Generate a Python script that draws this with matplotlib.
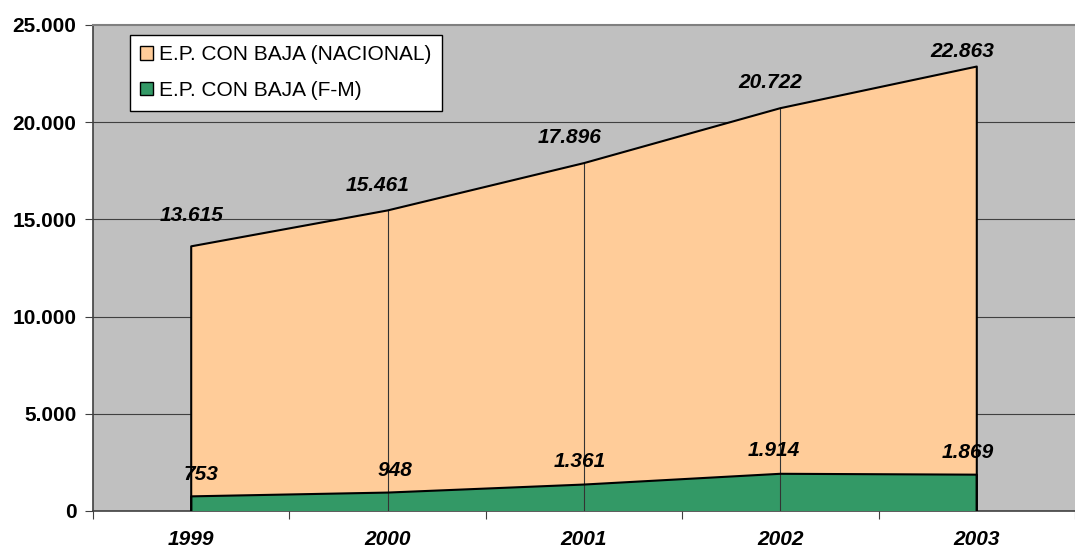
import matplotlib
matplotlib.use("Agg")
import matplotlib.pyplot as plt
from matplotlib.patches import Patch

plt.rcParams['font.family'] = ['Liberation Sans', 'DejaVu Sans']

years = ['1999', '2000', '2001', '2002', '2003']
nacional = [13615, 15461, 17896, 20722, 22863]
fm = [753, 948, 1361, 1914, 1869]
nacional_labels = ['13.615', '15.461', '17.896', '20.722', '22.863']
fm_labels = ['753', '948', '1.361', '1.914', '1.869']
y_ticks = [0, 5000, 10000, 15000, 20000, 25000]
y_tick_labels = ['0', '5.000', '10.000', '15.000', '20.000', '25.000']

# label offsets in pixels (dx, dy)
nac_off = [(0, 31), (-10, 25), (-14, 26), (-10, 26), (-15, 15)]
fm_off = [(10, 22), (7, 22), (-4, 23), (-7, 23), (-9, 22)]

orange = '#FFCC99'
green = '#339966'

fig = plt.figure(figsize=(10.75, 5.48), dpi=100)
ax = fig.add_axes([93 / 1075, 37 / 548, 1 - 93 / 1075, 486 / 548])
ax.set_facecolor('#C0C0C0')

x = list(range(len(years)))

for yv in y_ticks[1:-1]:
    ax.axhline(yv, color='#404040', lw=0.8, zorder=1)

ax.fill_between(x, 0, nacional, facecolor=orange, edgecolor='none', zorder=2)
ax.fill_between(x, 0, fm, facecolor=green, edgecolor='none', zorder=3)

# droplines at each category
for i in x[1:-1]:
    ax.plot([i, i], [0, nacional[i]], color='#333333', lw=0.8, zorder=4)

# outlines
ax.plot([x[0]] + x + [x[-1]], [0] + nacional + [0], color='black', lw=1.5, zorder=5)
ax.plot([x[0]] + x + [x[-1]], [0] + fm + [0], color='black', lw=1.5, zorder=5)

for i in x:
    ax.annotate(nacional_labels[i], (i, nacional[i]), xytext=nac_off[i],
                textcoords='offset pixels', ha='center', va='center',
                fontsize=15, fontweight='bold', fontstyle='italic', zorder=6)
    ax.annotate(fm_labels[i], (i, fm[i]), xytext=fm_off[i],
                textcoords='offset pixels', ha='center', va='center',
                fontsize=15, fontweight='bold', fontstyle='italic', zorder=6)

ax.set_xlim(-0.5, 4.44)
ax.set_ylim(0, 25000)

ax.set_yticks(y_ticks)
ax.set_yticklabels(y_tick_labels, fontsize=15, fontweight='bold')
ax.set_xticks([i - 0.5 for i in x] + [4.5])
ax.set_xticklabels([])
ax.set_xticks(x, minor=True)
ax.set_xticklabels(years, minor=True, fontsize=15, fontweight='bold', fontstyle='italic')
ax.tick_params(axis='x', which='minor', length=0, pad=14)
ax.tick_params(axis='x', which='major', length=6, color='#404040', direction='out')
ax.tick_params(axis='y', length=6, color='#404040', direction='out', pad=6)

for side in ['left', 'bottom']:
    ax.spines[side].set_color('#404040')
    ax.spines[side].set_linewidth(1.2)
ax.spines['top'].set_color('#808080')
ax.spines['top'].set_linewidth(1.5)
ax.spines['right'].set_visible(False)

handles = [Patch(facecolor=orange, edgecolor='black', label='E.P. CON BAJA (NACIONAL)'),
           Patch(facecolor=green, edgecolor='black', label='E.P. CON BAJA (F-M)')]
leg = ax.legend(handles=handles, loc='upper left',
                bbox_to_anchor=(130 / 1075, 1 - 35 / 548), bbox_transform=fig.transFigure,
                borderaxespad=0, fontsize=15, frameon=True, fancybox=False,
                handlelength=0.6, handleheight=0.6, handletextpad=0.3,
                labelspacing=0.8, borderpad=0.5)
leg.get_frame().set_edgecolor('black')
leg.get_frame().set_linewidth(1.0)
leg.get_frame().set_facecolor('white')
leg.get_frame().set_alpha(1)
leg.set_zorder(10)

fig.savefig('out.png', dpi=100)
